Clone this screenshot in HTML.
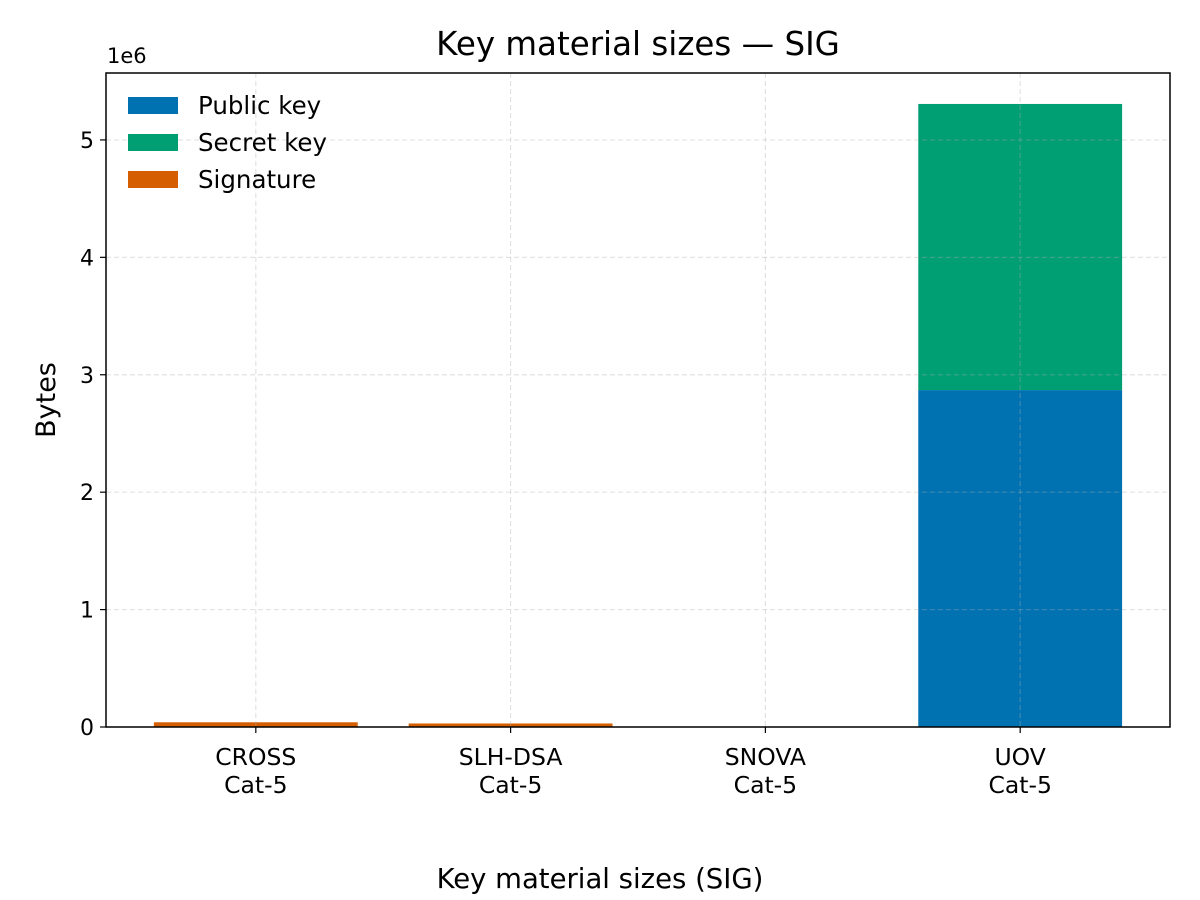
<!DOCTYPE html>
<html><head><meta charset="utf-8"><style>body{margin:0;background:#fff}svg{display:block}text{font-family:"DejaVu Sans","Liberation Sans",sans-serif}</style></head>
<body>
<svg id="chart" width="1200" height="900" xmlns="http://www.w3.org/2000/svg"></svg>
<script>
const categories = ["CROSS\nCat-5","SLH-DSA\nCat-5","SNOVA\nCat-5","UOV\nCat-5"];
const publicKey = [77, 64, 2320, 2869440];
const secretKey = [32, 128, 48, 2436704];
const signature = [40000, 29792, 376, 260];
const seriesNames = ["Public key","Secret key","Signature"];
const seriesColors = ["#0072b2","#009e73","#d55e00"];
const yTicks = [0,1,2,3,4,5];

const svg = document.getElementById('chart');
const NS = 'http://www.w3.org/2000/svg';
const L=106,R=1170,T=73,B=727;
const xMin=-0.588,xMax=3.588,yMax=5.57e6;
const xs=v=>L+(v-xMin)/(xMax-xMin)*(R-L);
const ys=v=>B-v/yMax*(B-T);
function mk(tag,attrs,parent){const e=document.createElementNS(NS,tag);for(const k in attrs)e.setAttribute(k,attrs[k]);(parent||svg).appendChild(e);return e;}

const series=[publicKey,secretKey,signature];
categories.forEach((c,i)=>{
  let base=0;
  series.forEach((s,j)=>{
    const v=s[i];
    const r=mk('rect',{x:xs(i-0.4),y:ys(base+v),width:xs(i+0.4)-xs(i-0.4),height:ys(base)-ys(base+v),fill:seriesColors[j]});
    
    
    base+=v;
  });
});
yTicks.forEach(t=>{
  const g=mk('line',{x1:L,x2:R,y1:ys(t*1e6),y2:ys(t*1e6),stroke:'#b0b0b0','stroke-opacity':0.35,'stroke-dasharray':'5,3','stroke-width':1.2});
  
  
  const tk=mk('line',{x1:L-6,x2:L,y1:ys(t*1e6),y2:ys(t*1e6),stroke:'#000','stroke-width':1.2});
  
  
  const tx=mk('text',{x:L-12,y:ys(t*1e6)+8,'text-anchor':'end','font-size':22});
  tx.textContent=t;
  
  
});
categories.forEach((c,i)=>{
  const g=mk('line',{x1:xs(i),x2:xs(i),y1:T,y2:B,stroke:'#b0b0b0','stroke-opacity':0.35,'stroke-dasharray':'5,3','stroke-width':1.2});
  
  
  const tk=mk('line',{x1:xs(i),x2:xs(i),y1:B,y2:B+6,stroke:'#000','stroke-width':1.2});
  
  
  c.split('\n').forEach((ln,k)=>{
    const tx=mk('text',{x:xs(i),y:765+k*28,'text-anchor':'middle','font-size':23.5});
    tx.textContent=ln;
    
    
  });
});
const fr=mk('rect',{x:L,y:T,width:R-L,height:B-T,fill:'none',stroke:'#000','stroke-width':1.5});


seriesNames.forEach((n,j)=>{
  const y=105+j*37;
  const r=mk('rect',{x:128,y:y-8,width:50,height:17,fill:seriesColors[j]});
  
  
  const t=mk('text',{x:198,y:y+9,'font-size':24.5});
  t.textContent=n;
  
  
});
const texts=[["Key material sizes — SIG",638,55,'middle',32.5,'chart-title',0],["1e6",107,63,'start',21,'y-scale-label',0],["Key material sizes (SIG)",600,888,'middle',27.5,'x-axis-title',0],["Bytes",55,400,'middle',27,'y-axis-title',1]];
texts.forEach(a=>{
  const t=mk('text',{x:a[1],y:a[2],'text-anchor':a[3],'font-size':a[4]});
  if(a[6])t.setAttribute('transform','rotate(-90 '+a[1]+' '+a[2]+')');
  t.textContent=a[0];
  
  
});
</script>
</body></html>
